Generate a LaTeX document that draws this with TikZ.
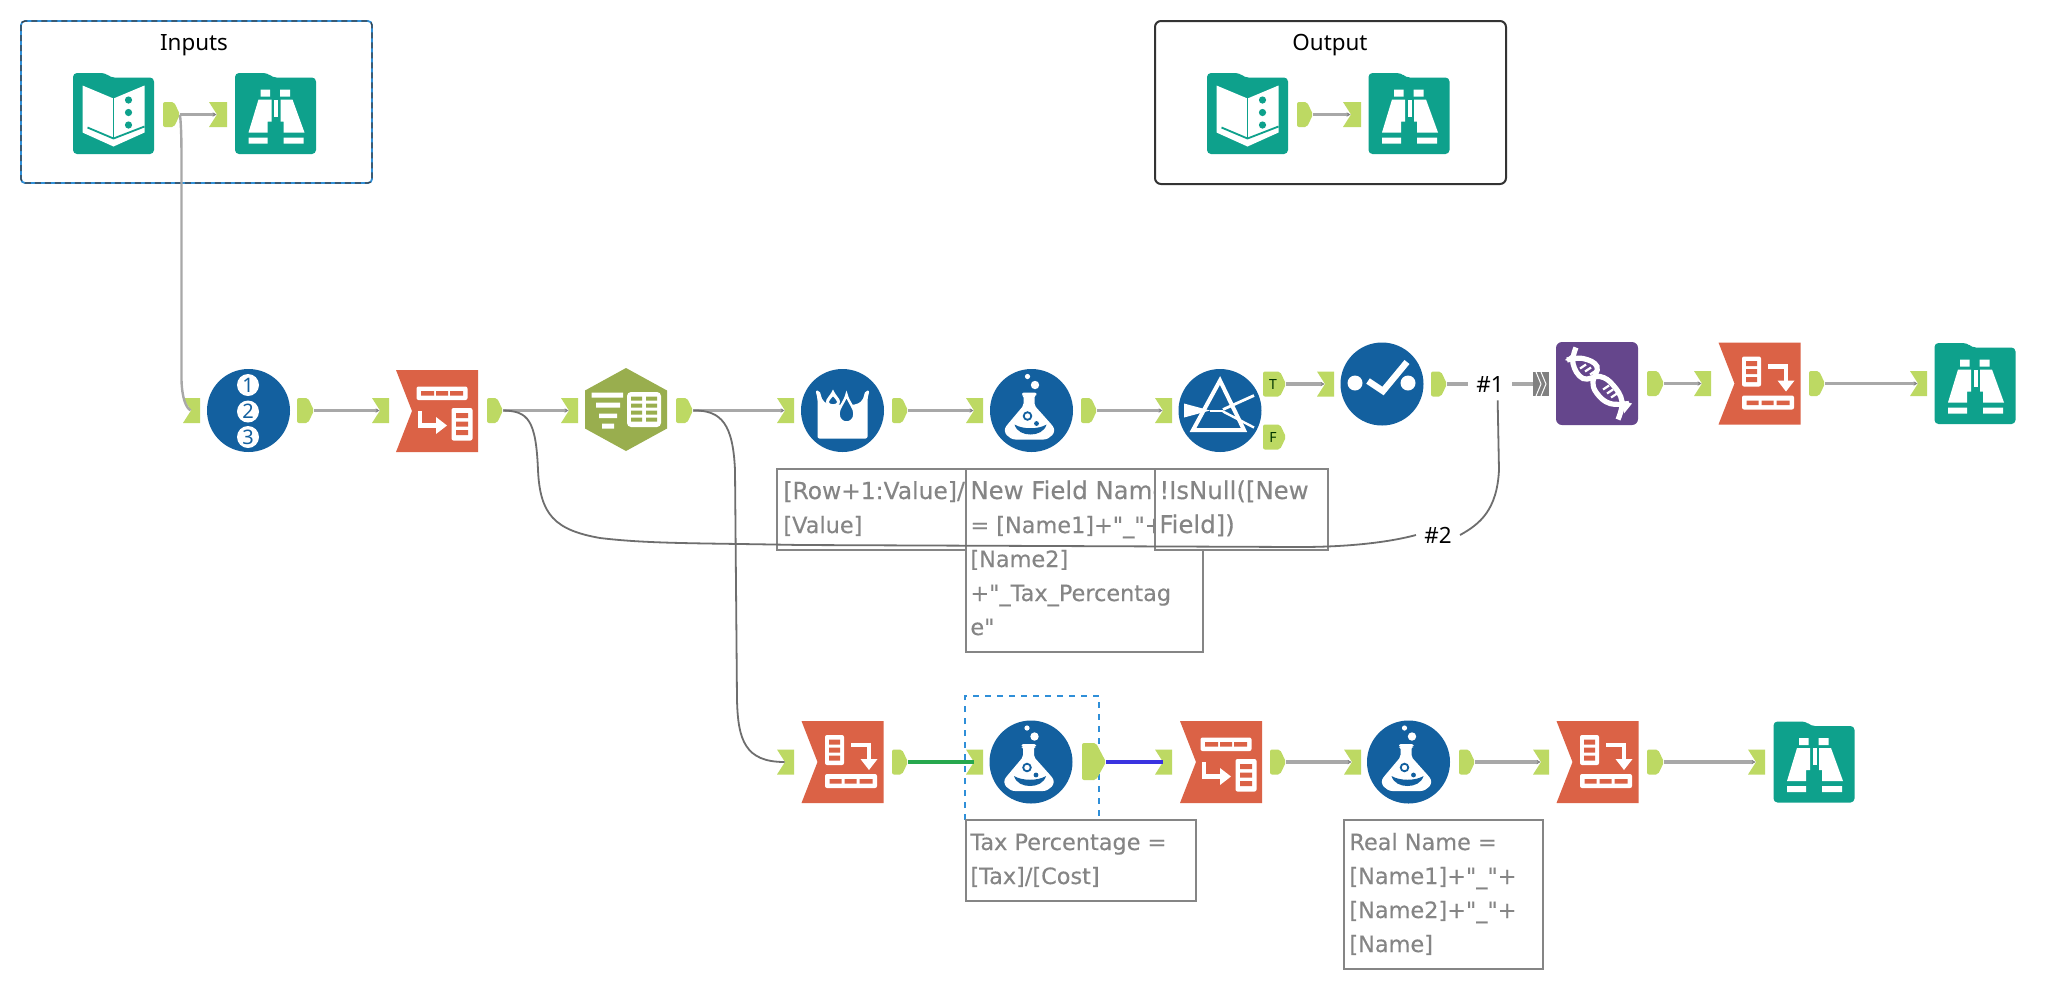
\documentclass[tikz,border=0pt]{standalone}
\usepackage{fontspec}
\setmainfont{Noto Sans}
\newfontfamily\notefont{DejaVu Sans}[AutoFakeBold=0.25]
\usetikzlibrary{arrows.meta}
\definecolor{teal1}{HTML}{0EA18C}
\definecolor{blue1}{HTML}{13609F}
\definecolor{red1}{HTML}{DB6246}
\definecolor{olive1}{HTML}{99AE4E}
\definecolor{purple1}{HTML}{65468C}
\definecolor{port1}{HTML}{BDD963}
\definecolor{wire1}{HTML}{A8A8A8}
\definecolor{curve1}{HTML}{6E6E6E}
\definecolor{note1}{HTML}{858585}
\definecolor{sel1}{HTML}{2F8FD8}
\definecolor{link1}{HTML}{27A84E}
\definecolor{link2}{HTML}{3A33E0}
\newcommand\OutPort[4]{%
  \fill[port1,rounded corners=1pt] (#2,#4-12.5) -- (#3-6,#4-12.5) -- (#3,#4) -- (#3-6,#4+12.5) -- (#2,#4+12.5) -- cycle;
  \node[inner sep=0pt,minimum size=0pt] (#1) at (#3,#4) {};}
\newcommand\InPort[4]{%
  \fill[port1] (#2,#4-12.5) -- (#3,#4-12.5) -- (#3,#4+12.5) -- (#2,#4+12.5) -- (#2+8,#4) -- cycle;
  \node[inner sep=0pt,minimum size=0pt] (#1) at (#2+8,#4) {};}
\tikzset{
  wirepath/.style={draw=wire1,line width=1.7pt,-{Stealth[length=2pt,width=2.2pt,color=curve1!85]}},
  curvepath/.style={draw=curve1,line width=0.9pt},
  notebox/.style={draw=note1,line width=0.9pt,fill=white},
  notetext/.style={anchor=base west,inner sep=0pt,text=note1,font=\notefont\bfseries\fontsize{11.2}{14}\selectfont},
  notemid/.style={anchor=base west,inner sep=0pt,text=note1,font=\notefont\bfseries\fontsize{11.7}{14}\selectfont},
  notewide/.style={anchor=base west,inner sep=0pt,text=note1,font=\notefont\bfseries\fontsize{12.2}{14}\selectfont},
  boxtitle/.style={inner sep=0pt,text=black,font=\fontsize{11.2}{14}\selectfont},
  wirelabel/.style={inner sep=4pt,text=black,font=\fontsize{11.2}{14}\selectfont},
  pics/folder/.style={code={
    \fill[teal1,rounded corners=2pt] (-40.5,-40.5) -- (-8,-40.5) -- (-3,-36) -- (40.5,-36) -- (40.5,40.5) -- (-40.5,40.5) -- cycle;}},
  pics/book/.style={code={
    \pic {folder};
    \fill[white] (-31,-28) -- (0,-15) -- (31,-28) -- (31,19) -- (0,33) -- (-31,19) -- cycle;
    \draw[teal1,line width=0.9pt] (0,-16) -- (0,24);
    \draw[teal1,line width=0.9pt] (-26,14) -- (0,25) -- (31,13);
    \fill[teal1] (15,-13.5) circle[radius=3.6] (15,-1) circle[radius=3.6] (15,11.5) circle[radius=3.6];}},
  pics/browse/.style={code={
    \pic {folder};
    \fill[white] (-15,-24) rectangle (-5.5,-17) (4.5,-24) rectangle (14.5,-17);
    \fill[white] (-17,-14) -- (-4,-14) -- (-4,8) -- (-8,8) -- (-8,19) -- (-27,19) -- cycle;
    \fill[white] (5,-14) -- (17,-14) -- (29,19) -- (8,19) -- (8,8) -- (5,8) -- cycle;
    \fill[white] (-1.5,-14) rectangle (2.5,3);
    \fill[white] (-27,24) rectangle (-8,30) (8,24) rectangle (28,30);}},
  pics/crosstab/.style={code={
    \fill[red1] (-41,-41) -- (41,-41) -- (41,41) -- (-41,41) -- (-25,0) -- cycle;
    \fill[white,rounded corners=1pt] (-20.5,-24.5) rectangle (30.5,-11);
    \fill[red1] (-16,-20) rectangle (-3,-15.5) (-1,-20) rectangle (11,-15.5) (13,-20) rectangle (26,-15.5);
    \fill[white,rounded corners=1pt] (14.5,-3) rectangle (35.5,29.5);
    \fill[red1] (19,2) rectangle (31,7) (19,10.5) rectangle (31,15.5) (19,19) rectangle (31,24);
    \draw[white,line width=2.2pt] (-17,0) -- (-17,14.5) -- (0,14.5);
    \fill[white] (-1,6) -- (10,14.5) -- (-1,23) -- cycle;}},
  pics/transpose/.style={code={
    \fill[red1] (-41,-41) -- (41,-41) -- (41,41) -- (-41,41) -- (-25,0) -- cycle;
    \fill[white,rounded corners=1pt] (-17.5,-27) rectangle (1.5,3);
    \fill[red1] (-13.5,-22.5) rectangle (-2.5,-17.5) (-13.5,-14.5) rectangle (-2.5,-9.5) (-13.5,-6.5) rectangle (-2.5,-1.5);
    \fill[white,rounded corners=1pt] (-17.5,12) rectangle (34.5,26);
    \fill[red1] (-13,17) rectangle (-1,21.5) (2,17) rectangle (14,21.5) (17,17) rectangle (30,21.5);
    \draw[white,line width=2.2pt] (8.6,-17) -- (26.5,-17) -- (26.5,-2);
    \fill[white] (18,-3) -- (35,-3) -- (26.5,8) -- cycle;}},
  pics/hexa/.style={code={
    \fill[olive1] (0,-41.5) -- (41,-19) -- (41,19) -- (0,41.5) -- (-41,19) -- (-41,-19) -- cycle;
    \fill[white] (-34.5,-17) rectangle (-3,-12) (-30,-7) rectangle (-6,-2) (-27,4) rectangle (-9,8.5) (-24,14) rectangle (-12,19);
    \fill[white,rounded corners=2pt] (1,-17.5) rectangle (35,17.5);
    \fill[olive1] (5,-13) rectangle (16,-9) (20,-13) rectangle (31,-9)
                  (5,-6) rectangle (16,-2) (20,-6) rectangle (31,-2)
                  (5,1) rectangle (16,5) (20,1) rectangle (31,5)
                  (5,8) rectangle (16,12) (20,8) rectangle (31,12);}},
  pics/tub/.style={code={
    \fill[blue1] (0,0) circle[radius=41.5];
    \fill[white,rounded corners=1pt] (-27,-20) -- (-23,-20) -- (-20,-10) -- (-14,-6) -- (14,-6) -- (20,-10) -- (23,-20) -- (27,-20) -- (25,-12) -- (25,28) -- (-25,28) -- (-25,-12) -- cycle;
    \fill[white] (-9.5,-21) .. controls (-7,-15) and (-2.5,-12) .. (-2.5,-9) .. controls (-2.5,-5) and (-6,-4) .. (-9.5,-4) .. controls (-13,-4) and (-16.5,-5) .. (-16.5,-9) .. controls (-16.5,-12) and (-12,-15) .. (-9.5,-21) -- cycle;
    \fill[blue1] (-9.5,-14) .. controls (-8,-12) and (-5.5,-10) .. (-5.5,-8.5) .. controls (-5.5,-7) and (-7.5,-6.5) .. (-9.5,-6.5) .. controls (-11.5,-6.5) and (-13.5,-7) .. (-13.5,-8.5) .. controls (-13.5,-10) and (-11,-12) .. (-9.5,-14) -- cycle;
    \draw[white,line width=1.2pt,fill=blue1] (4,-16) .. controls (6,-8) and (12,-3) .. (12,3) .. controls (12,9) and (8,12) .. (4,12) .. controls (0,12) and (-4,9) .. (-4,3) .. controls (-4,-3) and (2,-8) .. (4,-16) -- cycle;}},
  pics/flask/.style={code={
    \fill[blue1] (0,0) circle[radius=41.5];
    \fill[white] (-4,-34) circle[radius=2.6] (3.5,-25.5) circle[radius=4.2];
    \fill[white,rounded corners=1pt] (-9.5,-18) -- (5,-18) -- (5,-15) -- (3,-15) -- (3,-5) -- (20,14) .. controls (26,22) and (18,29) .. (10,29) -- (-14,29) .. controls (-22,29) and (-30,22) .. (-24,14) -- (-8,-5) -- (-8,-15) -- (-9.5,-15) -- cycle;
    \fill[blue1] (-17,14) .. controls (-9,19) and (7,19) .. (15,14) .. controls (13,21) and (6,24) .. (-1,24) .. controls (-8,24) and (-15,21) .. (-17,14) -- cycle;
    \draw[blue1,line width=0.9pt] (-4,5.5) circle[radius=3.8];
    \fill[blue1] (5,13) circle[radius=2.4];}},
  pics/prism/.style={code={
    \fill[blue1] (0,0) circle[radius=41.5];
    \draw[white,line width=2pt,line join=miter] (0,-30) -- (24,19.5) -- (-27,19.5) -- cycle;
    \fill[white] (-36,-7) -- (-36,7) -- (-10,0) -- cycle;
    \draw[white,line width=1pt] (-10,0) -- (3,0);
    \draw[white,line width=1.4pt] (3,-1) -- (34,-15);
    \draw[white,line width=1.2pt] (3,1) -- (34,17);}},
  pics/checker/.style={code={
    \fill[blue1] (0,0) circle[radius=41.5];
    \fill[white] (-27,-1) circle[radius=7.5] (26,-1) circle[radius=7.5];
    \draw[white,line width=3.2pt,line join=miter] (-14,-3) -- (1,7) -- (25,-22);}},
  pics/dna/.style={code={
    \fill[purple1,rounded corners=3pt] (-41,-41.5) rectangle (41,41.5);
    \draw[white,line width=2.6pt] plot[smooth,tension=0.7] coordinates {(-21,-36) (-24,-20) (-14,-5) (3,-7) (16,1.5) (25,18) (21,36)};
    \draw[white,line width=2.6pt] plot[smooth,tension=0.7] coordinates {(-30,-23.5) (-14,-25) (0,-17) (-4,-2) (0,10) (13,20) (32,20)};
    \fill[white] (-32,-23.5) -- (-22,-32) -- (-22,-20) -- cycle;
    \fill[white] (35,20) -- (25,17) -- (27,30) -- cycle;
    \foreach \ra/\rb in {-17/-15,-12/-12,-7/-9,6/6,10/10,14/14} {\draw[white,line width=1.1pt] (\ra,\rb) -- (\ra+6,\rb-4);}
  }},
  numdot/.style={circle,fill=white,inner sep=0pt,minimum size=11pt,text=blue1,font=\fontsize{10}{10}\selectfont\bfseries},
  portletter/.style={inner sep=0pt,text=black!55!green!45!black,font=\fontsize{7}{7}\selectfont\bfseries},
}
\begin{document}
\begin{tikzpicture}[x=0.5pt,y=-0.5pt]
\useasboundingbox (0,0) rectangle (2063,1003);
\fill[white] (0,0) rectangle (2063,1003);

% containers
\draw[sel1,line width=0.9pt,rounded corners=2pt] (21,21) rectangle (372,183);
\draw[black!75,line width=0.6pt,rounded corners=2pt,dash pattern=on 3pt off 2pt] (21,21) rectangle (372,183);
\node[boxtitle] (inputstitle) at (194,45) {Inputs};
\draw[black!80,line width=1pt,rounded corners=3pt] (1155,21) rectangle (1506,184);
\node[boxtitle] (outputtitle) at (1330,45) {Output};

% selection
\draw[sel1,line width=0.8pt,dashed] (965,820) -- (965,696) -- (1099,696) -- (1099,820);

% tools
\pic at (113.5,113.5) {book};
\pic at (275.5,113.5) {browse};
\pic at (1247.5,113.5) {book};
\pic at (1409,113.5) {browse};

\fill[blue1] (248.5,410.5) circle[radius=41.5];
\node[numdot] (n1) at (248,385) {1};
\node[numdot] (n2) at (248,411.5) {2};
\node[numdot] (n3) at (248,437) {3};
\pic at (437,411) {crosstab};
\pic at (626,409.5) {hexa};
\pic at (842.5,410.5) {tub};
\pic at (1031.5,410.5) {flask};
\pic at (1220,410.5) {prism};
\pic at (1382,384) {checker};
\pic at (1597,383.5) {dna};
\pic at (1759.5,383.5) {transpose};
\pic at (1975,383.5) {browse};

\pic at (842.5,762) {transpose};
\pic at (1031,762) {flask};
\pic at (1221,762) {crosstab};
\pic at (1408.5,762) {flask};
\pic at (1597.5,762) {transpose};
\pic at (1814,762) {browse};

% ports
\OutPort{a1}{163}{180}{114.5}
\InPort{a2}{209}{227}{114.5}
\OutPort{b1}{1297}{1313}{114.5}
\InPort{b2}{1343}{1361}{114.5}
\InPort{c0}{183}{200}{410.5}
\OutPort{c1}{297}{314}{410.5}
\InPort{c2}{372}{389}{410.5}
\OutPort{c3}{487}{503}{410.5}
\InPort{c4}{561}{578}{410.5}
\OutPort{c5}{676}{693}{410.5}
\InPort{c6}{777}{794}{410.5}
\OutPort{c7}{892}{908}{410.5}
\InPort{c8}{966}{983}{410.5}
\OutPort{c9}{1081}{1097}{410.5}
\InPort{c10}{1155}{1172}{410.5}
\OutPort{tport}{1263}{1286}{384}
\OutPort{fport}{1263}{1286}{437}
\node[portletter] (tletter) at (1273,384) {T};
\node[portletter] (fletter) at (1273,437) {F};
\InPort{d1}{1317}{1334}{384}
\OutPort{d2}{1431}{1447}{384}
\fill[black!50] (1533,372) rectangle (1549,396);
\draw[white,line width=0.5pt] (1536,372) -- (1541,384) -- (1536,396) (1541,372) -- (1546,384) -- (1541,396);
\node[inner sep=0pt,minimum size=0pt] (d3) at (1533,384) {};
\OutPort{d4}{1647}{1664}{383.5}
\InPort{d5}{1694}{1711}{383.5}
\OutPort{d6}{1809}{1825}{383.5}
\InPort{d7}{1910}{1927}{383.5}

\InPort{e0}{777}{794}{762}
\OutPort{e1}{892}{908}{762}
\InPort{e2}{966}{983}{762}
\fill[port1,rounded corners=1pt] (1082,743) -- (1096,743) -- (1106,762) -- (1096,780) -- (1082,780) -- cycle;
\node[inner sep=0pt,minimum size=0pt] (e3) at (1106,762) {};
\InPort{e4}{1155}{1172}{762}
\OutPort{e5}{1270}{1286}{762}
\InPort{e6}{1344}{1361}{762}
\OutPort{e7}{1459}{1475}{762}
\InPort{e8}{1533}{1549}{762}
\OutPort{e9}{1647}{1664}{762}
\InPort{e10}{1748}{1765}{762}

% notes
\draw[notebox] (777,469) rectangle (967,550);
\node[notemid] (t1a) at (783,499) {[Row+1:Value]/};
\node[notetext] (t1b) at (783,533) {[Value]};
\draw[notebox] (966,469) rectangle (1203,652);
\node[notewide] (t2a) at (970,499) {New Field Name};
\node[notetext] (t2b) at (970,533) {= [Name1]+"\_"+};
\node[notetext] (t2c) at (970,567) {[Name2]};
\node[notetext] (t2d) at (970,601) {+"\_Tax\_Percentag};
\node[notetext] (t2e) at (970,635) {e"};
\draw[notebox] (1155,469) rectangle (1328,550);
\node[notewide] (t3a) at (1159,499) {!IsNull([New};
\node[notewide] (t3b) at (1159,533) {Field])};
\draw[notebox] (966,820) rectangle (1196,901);
\node[notetext] (t4a) at (970,850) {Tax Percentage =};
\node[notetext] (t4b) at (970,884) {[Tax]/[Cost]};
\draw[notebox] (1344,820) rectangle (1543,969);
\node[notetext] (t5a) at (1349,850) {Real Name =};
\node[notetext] (t5b) at (1349,884) {[Name1]+"\_"+};
\node[notetext] (t5c) at (1349,918) {[Name2]+"\_"+};
\node[notetext] (t5d) at (1349,952) {[Name]};

% wire labels
\node[wirelabel] (hash1) at (1490,384) {\#1};
\node[wirelabel] (hash2) at (1438,535) {\#2};

% connectors
\draw[wirepath] (a1) -- (a2);
\draw[wirepath] (b1) -- (b2);
\draw[wirepath] (c1) -- (c2);
\draw[wirepath] (c3) -- (c4);
\draw[wirepath] (c5) -- (c6);
\draw[wirepath] (c7) -- (c8);
\draw[wirepath] (c9) -- (c10);
\draw[wirepath] (tport) -- (d1);
\draw[draw=wire1,line width=1.7pt] (d2) -- (hash1);
\draw[draw=wire1,line width=1.7pt] (hash1) -- (d3);
\draw[wirepath] (d4) -- (d5);
\draw[wirepath] (d6) -- (d7);
\draw[wirepath] (e5) -- (e6);
\draw[wirepath] (e7) -- (e8);
\draw[wirepath] (e9) -- (e10);
\draw[draw=wire1,line width=1.2pt] (a1) .. controls (181,125) and (181.5,135) .. (181.5,160) -- (181.5,380) .. controls (182,398) and (186,408) .. (c0);
\draw[curvepath] (c3) .. controls (528,411) and (536,420) .. (538,470) .. controls (540,515) and (555,530) .. (600,538) .. controls (650,544) and (700,543) .. (800,545) -- (1300,547) .. controls (1350,547) and (1390,542) .. (hash2.west);
\draw[curvepath] (hash2.east) .. controls (1480,524) and (1497,510) .. (1499,470) -- (hash1.-65);
\draw[curvepath] (c5) .. controls (722,410) and (733,425) .. (735,470) -- (737,700) .. controls (738,740) and (745,762) .. (e0);
\draw[draw=link1,line width=2pt] (e1) -- (e2);
\draw[draw=link2,line width=2pt] (e3) -- (e4);
\end{tikzpicture}
\end{document}
